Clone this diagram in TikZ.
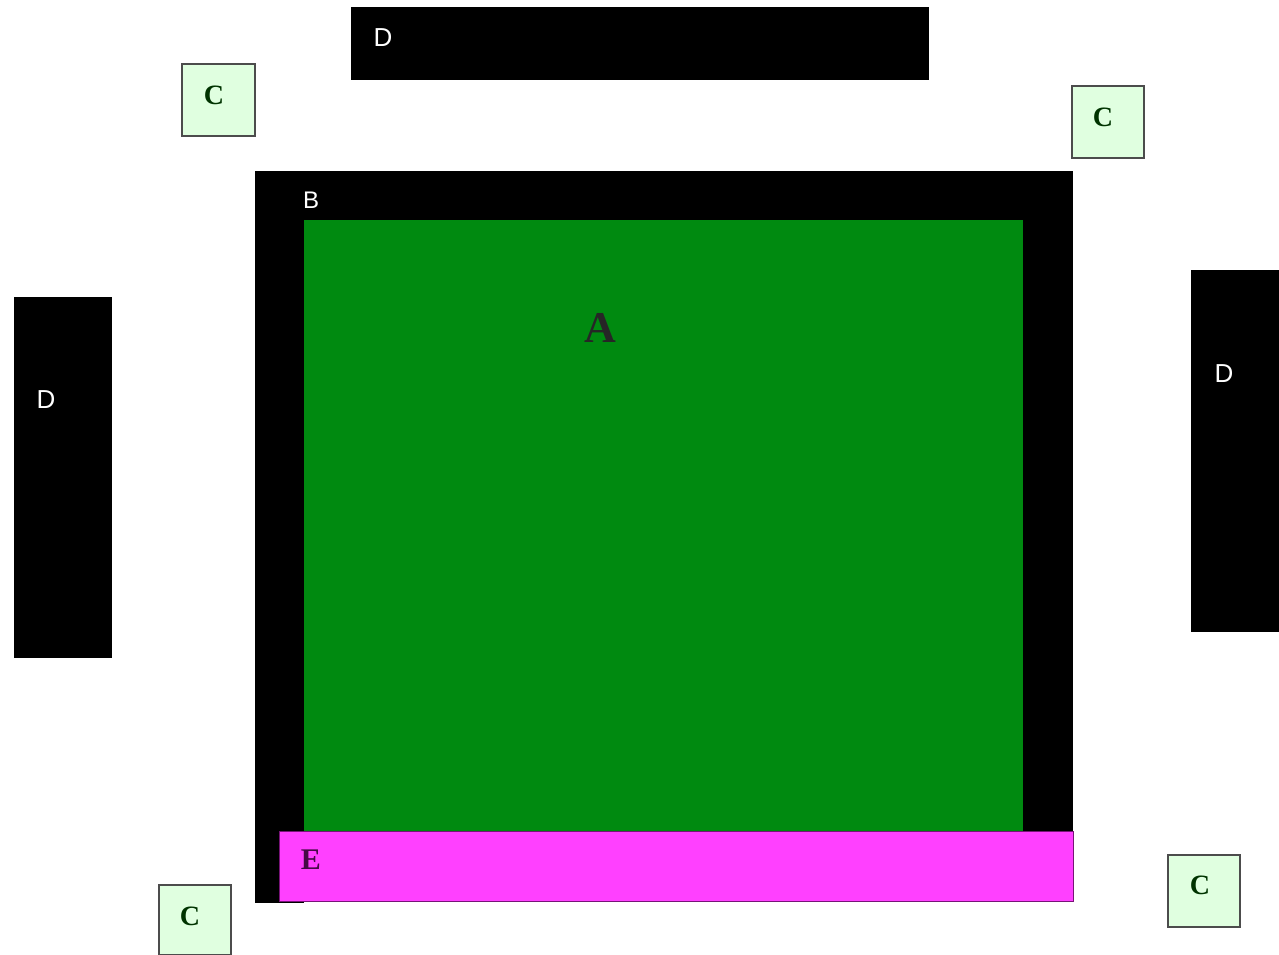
\documentclass[tikz,border=0pt]{standalone}
\usepackage{fontspec}
\setmainfont{Liberation Serif}
\setsansfont{Liberation Sans}
\begin{document}
\begin{tikzpicture}[x=1pt,y=-1pt,
  blackbox/.style={fill=black,draw=none},
  cbox/.style={fill=green!12,draw=black!70,line width=1.2pt},
  ctext/.style={font=\fontsize{28}{30}\selectfont\bfseries,text=green!20!black,inner sep=0pt},
  dtext/.style={font=\sffamily\fontsize{26}{28}\selectfont,text=white,inner sep=0pt}]
\useasboundingbox (0,0) rectangle (1279,955);
\fill[white] (0,0) rectangle (1279,955);
% top D
\path[blackbox] (351,7) rectangle (929,80);
\node[dtext] (dtop) at (383,38) {D};
% left D
\path[blackbox] (14,297) rectangle (112,658);
\node[dtext] (dleft) at (46,400) {D};
% right D
\path[blackbox] (1191,270) rectangle (1279,632);
\node[dtext] (dright) at (1224,374) {D};
% B
\path[blackbox] (255,171) rectangle (1073,840);
\path[blackbox] (255,171) rectangle (304,903);
\node[dtext,font=\sffamily\fontsize{24}{26}\selectfont] (b) at (311,200) {B};
% A
\fill[fill={rgb,255:red,0;green,138;blue,16}] (304,220) rectangle (1023,831);
\node[font=\fontsize{44}{46}\selectfont\bfseries,inner sep=0pt,text=black!85] (a) at (600,328) {A};
% E
\draw[fill={rgb,255:red,255;green,64;blue,255},draw={rgb,255:red,120;green,20;blue,120},line width=1pt] (279,831) rectangle (1073,901);
\node[font=\fontsize{30}{32}\selectfont\bfseries,inner sep=0pt,text={rgb,255:red,70;green,10;blue,70}] (e) at (311,860) {E};
% C boxes
\draw[cbox] (182,64) rectangle (255,136);
\node[ctext] (c1) at (214,95) {C};
\draw[cbox] (1072,86) rectangle (1144,158);
\node[ctext] (c2) at (1103,117) {C};
\draw[cbox] (159,885) rectangle (231,955);
\node[ctext] (c3) at (190,916) {C};
\draw[cbox] (1168,855) rectangle (1240,927);
\node[ctext] (c4) at (1200,885) {C};
\end{tikzpicture}
\end{document}
